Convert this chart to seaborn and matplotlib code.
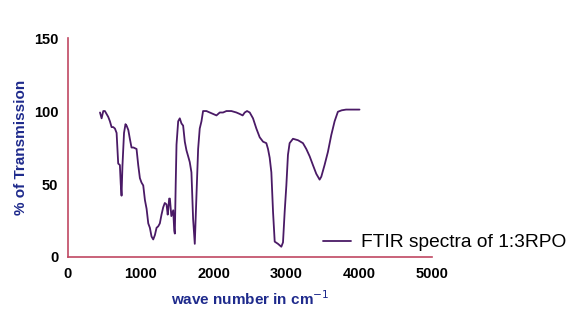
import matplotlib
matplotlib.use("Agg")
import matplotlib.pyplot as plt
import seaborn as sns
import pandas as pd

wavenumber = [440, 462, 485, 507, 530, 553, 576, 599, 622, 645, 668, 690, 713, 725, 736, 748, 770, 790,
              805, 829, 850, 873, 900, 942, 965, 988, 1010, 1034, 1057, 1080, 1103, 1125, 1148, 1171,
              1194, 1217, 1240, 1262, 1285, 1308, 1330, 1354, 1370, 1377, 1390, 1400, 1420, 1446, 1460,
              1468, 1480, 1491, 1514, 1536, 1559, 1582, 1605, 1628, 1651, 1673, 1696, 1719, 1742, 1765,
              1788, 1810, 1834, 1856, 1880, 1902, 1948, 1994, 2040, 2085, 2130, 2177, 2245, 2314, 2360,
              2400, 2428, 2460, 2497, 2542, 2588, 2634, 2680, 2725, 2748, 2771, 2794, 2817, 2840, 2885,
              2931, 2954, 2977, 3000, 3022, 3045, 3091, 3160, 3228, 3274, 3320, 3365, 3411, 3457, 3480,
              3525, 3571, 3617, 3663, 3708, 3760, 3820, 3880, 3940, 4005]
transmission = [99, 95, 100, 100, 98, 96, 93, 89, 89, 88, 85, 64, 63, 50, 42, 62, 85, 91,
                90, 87, 81, 75, 75, 74, 63, 54, 51, 49, 39, 33, 23, 20, 14, 12,
                15, 20, 21, 23, 29, 34, 37, 36, 29, 32, 40, 40, 28, 32, 18,
                16, 50, 77, 93, 95, 91.5, 90, 79, 73, 69, 65, 58, 26, 9, 42,
                74, 88, 93, 100, 100, 100, 99, 98, 97, 99, 99, 100, 100, 99, 98,
                97, 99, 100, 99, 95, 88, 82, 79, 78, 74, 68, 58, 31, 10.5, 9,
                7, 10, 31, 49, 70, 78, 81, 80, 78, 74, 69, 63, 57, 53, 55,
                63, 72, 83.5, 93, 99.5, 100.5, 101, 101, 101, 101]
series_label = "FTIR spectra of 1:3RPO"
x_ticks = [0, 1000, 2000, 3000, 4000, 5000]
y_ticks = [0, 50, 100, 150]

df = pd.DataFrame({"wavenumber": wavenumber, "transmission": transmission})

sns.set_style("white")
plt.rcParams["font.family"] = ["Liberation Sans", "DejaVu Sans"]

axis_red = "#C04862"
label_blue = "#1E2A8C"
line_col = "#4A1A66"

fig = plt.figure(figsize=(5.79, 3.2), dpi=100)
ax = fig.add_axes([0.1174, 0.197, 0.6286, 0.684])
sns.lineplot(data=df, x="wavenumber", y="transmission", sort=False, estimator=None,
             color=line_col, lw=1.3, label=series_label, ax=ax)

ax.set_xlim(0, 5000)
ax.set_ylim(0, 150)
ax.set_xticks(x_ticks)
ax.set_yticks(y_ticks)
ax.tick_params(axis="both", which="major", length=4, width=1, color=axis_red,
               labelsize=10.5, labelcolor="black", pad=3)
for lab in ax.get_xticklabels() + ax.get_yticklabels():
    lab.set_fontweight("bold")
for side in ["top", "right"]:
    ax.spines[side].set_visible(False)
for side in ["left", "bottom"]:
    ax.spines[side].set_color(axis_red)
    ax.spines[side].set_linewidth(1.2)

ax.set_xlabel(r"wave number in cm$^{-1}$", color=label_blue, fontsize=11, fontweight="bold", labelpad=6)
ax.set_ylabel("% of Transmission", color=label_blue, fontsize=11, fontweight="bold", labelpad=4)

leg = ax.legend(loc="center left", bbox_to_anchor=(0.652, 0.065), frameon=False, fontsize=13.8,
                handlelength=1.5, handletextpad=0.5)
for t in leg.get_texts():
    t.set_color("black")

fig.savefig("out.png", dpi=100)
